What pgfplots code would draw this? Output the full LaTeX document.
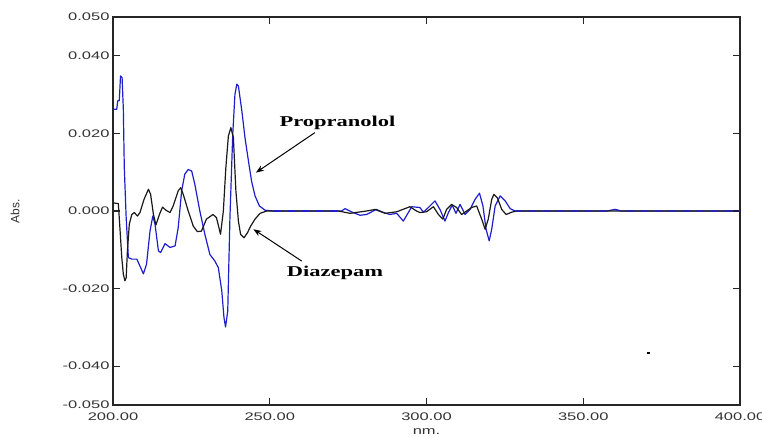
\documentclass[border=0pt]{standalone}
\usepackage{pgfplots}
\usepackage{pgfplotstable}
\pgfplotsset{compat=1.18}
\usetikzlibrary{arrows.meta}
\usepackage{fontspec}
\setmainfont{Liberation Sans}[FakeStretch=1.5]
\newfontfamily\plainsans{Liberation Sans}
\newfontfamily\annotfont{Liberation Serif}[FakeStretch=1.5]

\definecolor{propblue}{RGB}{30,30,205}
\definecolor{diazblack}{RGB}{25,25,25}

% Propranolol (azul)
\pgfplotstableread{
x y
200.1 0.0262
201.2 0.0262
201.5 0.0284
202.0 0.0284
202.4 0.0348
202.9 0.0344
203.3 0.0262
203.6 0.0112
204.2 -0.0017
204.9 -0.0120
206.0 -0.0124
207.6 -0.0124
208.6 -0.0142
209.7 -0.0162
210.7 -0.0137
211.8 -0.0052
212.7 -0.0013
213.4 -0.0034
214.5 -0.0103
215.2 -0.0107
216.6 -0.0084
218.2 -0.0094
219.8 -0.0090
220.8 -0.0043
221.9 0.0052
222.9 0.0095
224.0 0.0107
225.1 0.0103
226.1 0.0069
227.7 0.0000
229.3 -0.0060
230.9 -0.0112
232.5 -0.0129
233.6 -0.0146
234.7 -0.0206
235.4 -0.0275
235.9 -0.0299
236.6 -0.0258
237.3 -0.0017
238.2 0.0198
238.9 0.0301
239.5 0.0327
240.0 0.0322
241.1 0.0258
242.1 0.0189
243.2 0.0129
244.2 0.0077
245.3 0.0039
246.7 0.0013
248.5 0.0002
251.2 0.0000
260.0 0.0000
272.9 0.0000
274.0 0.0006
276.0 -0.0002
278.8 -0.0011
280.9 -0.0009
284.0 0.0004
286.0 -0.0003
288.3 -0.0009
290.5 -0.0006
292.6 -0.0026
295.3 0.0011
297.9 0.0009
299.0 -0.0003
300.6 0.0009
302.7 0.0026
304.3 0.0004
305.9 -0.0026
307.0 -0.0004
308.2 0.0015
309.4 -0.0006
310.7 0.0017
312.3 -0.0009
313.9 0.0004
315.5 0.0030
316.9 0.0046
318.0 0.0013
319.0 -0.0047
320.0 -0.0077
320.8 -0.0047
321.9 0.0013
323.5 0.0039
325.1 0.0026
326.7 0.0006
328.3 0.0000
340.0 0.0000
357.5 0.0000
360.1 0.0004
362.0 0.0000
380.0 0.0000
400.0 0.0000
}\propdata

% Diazepam (preto)
\pgfplotstableread{
x y
200.1 0.0021
201.7 0.0019
202.2 -0.0043
202.8 -0.0120
203.3 -0.0163
203.8 -0.0180
204.2 -0.0172
204.6 -0.0103
205.2 -0.0034
206.0 -0.0009
206.8 -0.0004
207.8 -0.0013
208.6 -0.0004
209.9 0.0030
211.3 0.0056
212.0 0.0043
212.9 -0.0009
213.7 -0.0036
214.8 -0.0009
215.8 0.0010
216.9 0.0002
218.2 -0.0004
219.2 0.0013
220.8 0.0052
221.6 0.0060
222.4 0.0043
224.0 0.0000
225.6 -0.0039
226.9 -0.0053
228.2 -0.0052
229.8 -0.0021
231.9 -0.0009
233.0 -0.0017
234.3 -0.0060
235.2 0.0000
236.0 0.0112
236.8 0.0193
237.6 0.0215
238.4 0.0189
239.2 0.0052
240.0 -0.0026
240.7 -0.0060
241.8 -0.0069
242.9 -0.0056
243.9 -0.0039
245.3 -0.0021
246.9 -0.0006
249.0 0.0000
271.9 0.0000
275.6 -0.0006
280.9 0.0000
283.6 0.0004
286.8 -0.0006
290.5 -0.0002
294.7 0.0011
296.8 0.0000
297.9 -0.0004
300.0 -0.0002
302.2 0.0011
303.8 -0.0009
305.2 -0.0021
306.4 0.0004
308.0 0.0017
309.6 0.0009
311.2 -0.0009
312.8 0.0000
314.4 0.0009
316.0 0.0013
317.6 -0.0021
318.7 -0.0047
319.7 -0.0021
320.8 0.0030
321.5 0.0043
322.6 0.0034
324.0 0.0004
325.4 -0.0009
327.2 -0.0003
328.8 0.0000
400.0 0.0000
}\diazdata

\begin{document}
\begin{tikzpicture}
\begin{axis}[
    at={(0,0)}, anchor=south west,
    scale only axis,
    width=627pt, height=388pt,
    xmin=200, xmax=400,
    ymin=-0.05, ymax=0.05,
    xtick={200,250,300,350,400},
    ytick={-0.05,-0.04,-0.02,0,0.02,0.04,0.05},
    scaled y ticks=false,
    scaled x ticks=false,
    tick align=inside,
    major tick length=7pt,
    axis line style={line width=1.2pt, black!85},
    every tick/.style={line width=1.2pt, black!85},
    x tick label style={yshift=-4pt,
        /pgf/number format/fixed, /pgf/number format/fixed zerofill,
        /pgf/number format/precision=2, /pgf/number format/assume math mode=true},
    y tick label style={
        /pgf/number format/fixed, /pgf/number format/fixed zerofill,
        /pgf/number format/precision=3, /pgf/number format/assume math mode=true},
    tick label style={font=\fontsize{11}{12}\selectfont, text=black!80},
    xlabel={nm.},
    ylabel={Abs.},
    every axis x label/.style={at={(axis description cs:0.5,0)}, anchor=north, yshift=-20pt,
        font=\fontsize{11}{12}\selectfont, text=black!80},
    every axis y label/.style={at={(axis description cs:0,0.5)}, xshift=-98pt, rotate=90, anchor=center,
        font=\plainsans\fontsize{12}{13}\selectfont, text=black!80},
    clip=false,
]

\addplot[propblue, line width=1.2pt, line join=round] table[x=x, y=y] {\propdata};
\addplot[diazblack, line width=1.2pt, line join=round] table[x=x, y=y] {\diazdata};
% trechos sobrepostos em zero: azul tracejado por cima do preto
\addplot[propblue, line width=1.2pt, dash pattern=on 7pt off 7pt,
    restrict x to domain=328:400] table[x=x, y=y] {\propdata};
\addplot[propblue, line width=1.2pt, dash pattern=on 7pt off 7pt,
    restrict x to domain=250:273] table[x=x, y=y] {\propdata};

% ponto isolado no canto inferior direito
\addplot[only marks, mark=square*, mark size=0.9pt, black] coordinates {(370.6,-0.0365)};

% rotulos com setas
\node[font=\annotfont\bfseries\fontsize{15}{16}\selectfont] at (axis cs:271.6,0.0228) {Propranolol};
\draw[-{Stealth[length=8pt,width=6pt]}, line width=1pt] (axis cs:264.4,0.0202) -- (axis cs:245.6,0.0099);
\node[font=\annotfont\bfseries\fontsize{15}{16}\selectfont] at (axis cs:270.8,-0.0159) {Diazepam};
\draw[-{Stealth[length=8pt,width=6pt]}, line width=1pt] (axis cs:260.2,-0.0129) -- (axis cs:244.8,-0.0047);

\end{axis}
\pgfresetboundingbox
\useasboundingbox (-113pt,-31pt) rectangle (649pt,405pt);
\end{tikzpicture}
\end{document}
